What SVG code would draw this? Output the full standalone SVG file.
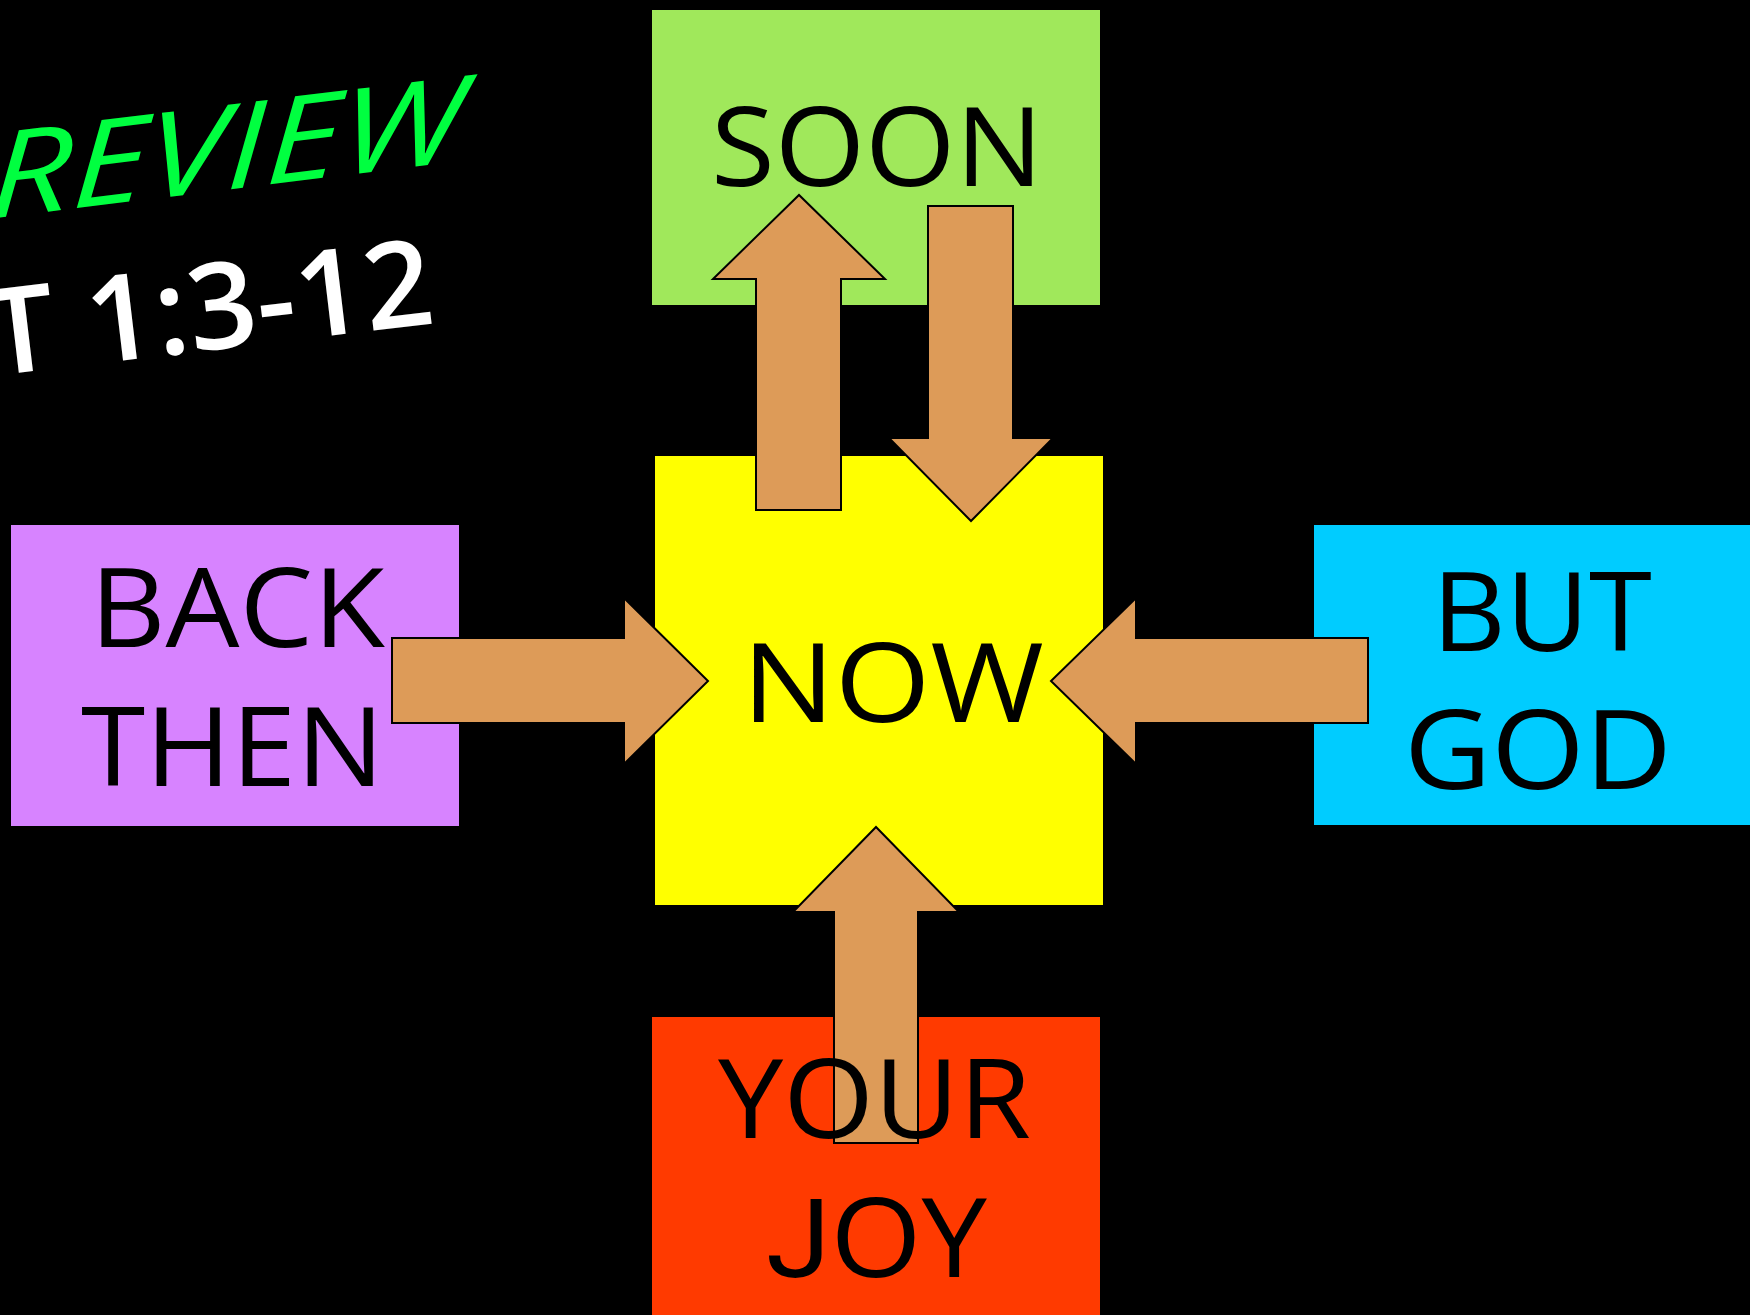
<svg xmlns="http://www.w3.org/2000/svg" width="1750" height="1315" viewBox="0 0 1750 1315">
<style>
.lbl{font-family:"Open Sans","Noto Sans","DejaVu Sans",sans-serif;font-size:110px;font-weight:400;fill:#000;text-anchor:middle}
.arrow{fill:#DD9B58;stroke:#000;stroke-width:2;stroke-linejoin:miter}
</style>
<rect x="0" y="0" width="1750" height="1315" fill="#000"/>
<g id="title">
<text transform="translate(-12,219) rotate(-7) skewX(-9)" font-family="'Open Sans','Noto Sans',sans-serif" font-style="italic" font-size="118" fill="#00FF40" textLength="478" lengthAdjust="spacingAndGlyphs">REVIEW</text>
<text transform="translate(-8,376) rotate(-6.8)" font-family="'Open Sans','Noto Sans',sans-serif" font-size="120" font-weight="600" fill="#FFFFFF" textLength="448" lengthAdjust="spacingAndGlyphs">T 1:3-12</text>
</g>
<g id="node-soon">
<rect x="652" y="10" width="448" height="295" fill="#A0E85B"/>
<text class="lbl" x="877" y="186" textLength="332" lengthAdjust="spacingAndGlyphs">SOON</text>
</g>
<g id="node-now">
<rect x="655" y="456" width="448" height="449" fill="#FFFF00"/>
<text class="lbl" x="893" y="722" textLength="302" lengthAdjust="spacingAndGlyphs">NOW</text>
</g>
<g id="node-back-then">
<rect x="11" y="525" width="448" height="301" fill="#D783FF"/>
<text class="lbl" x="237.5" y="647" textLength="295" lengthAdjust="spacingAndGlyphs">BACK</text>
<text class="lbl" x="232.5" y="786" textLength="303" lengthAdjust="spacingAndGlyphs">THEN</text>
</g>
<g id="node-but-god">
<rect x="1314" y="525" width="448" height="300" fill="#00CCFF"/>
<text class="lbl" x="1542" y="651" textLength="220" lengthAdjust="spacingAndGlyphs">BUT</text>
<text class="lbl" x="1538" y="789" textLength="268" lengthAdjust="spacingAndGlyphs">GOD</text>
</g>
<g id="connectors">
<polygon class="arrow" points="756,510 756,279 713,279 799,195 885,279 841,279 841,510"/>
<polygon class="arrow" points="928,206 1013,206 1013,438 1053,438 971,521 889,438 928,438"/>
<polygon class="arrow" points="392,638 624,638 624,598 708,681 624,764 624,723 392,723"/>
<polygon class="arrow" points="1368,638 1136,638 1136,598 1051,681 1136,764 1136,723 1368,723"/>
<polygon class="arrow" points="834,1143 834,912 793,912 876,827 959,912 918,912 918,1143"/>
</g>
<g id="node-your-joy">
<path d="M652,1017 H1100 V1330 H652 Z M833,1017 V1144 H919 V1017 Z" fill="#FF3A00" fill-rule="evenodd"/>
<text class="lbl" x="874.5" y="1138" textLength="313" lengthAdjust="spacingAndGlyphs">YOUR</text>
<text class="lbl" x="876.5" y="1277" textLength="221" lengthAdjust="spacingAndGlyphs"><tspan font-family="Roboto,'Liberation Sans',sans-serif">J</tspan>OY</text>
</g>
</svg>
